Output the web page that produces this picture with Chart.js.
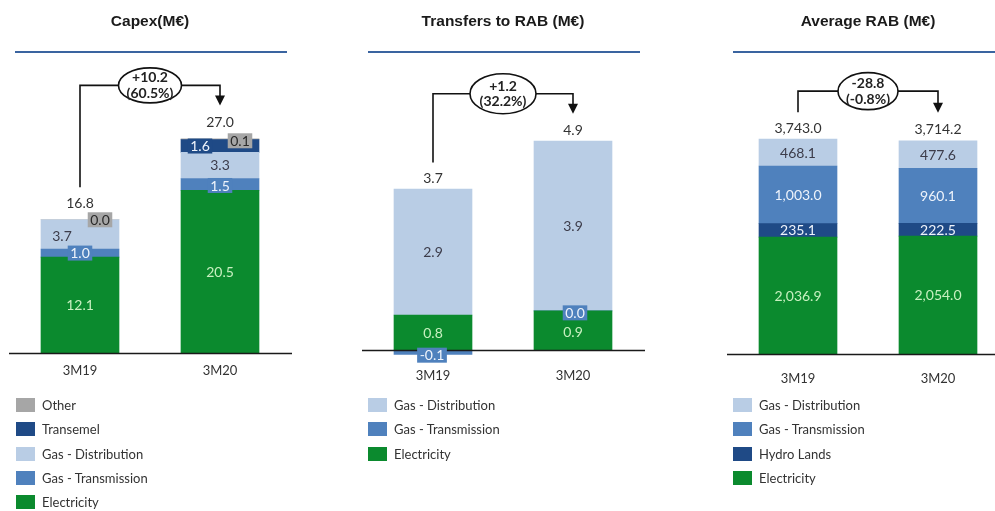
<!DOCTYPE html>
<html><head><meta charset="utf-8">
<script src="https://cdn.jsdelivr.net/npm/chart.js@4.4.1/dist/chart.umd.min.js"></script>
<style>
html,body{margin:0;padding:0;background:#fff;}
body{width:995px;height:511px;overflow:hidden;position:relative;}
canvas{position:absolute;top:0;}
.legend{position:absolute;font-family:Lato,sans-serif;font-size:13px;color:#333;}
.legend .it{position:absolute;left:0;white-space:nowrap;height:14px;}
.legend .sw{position:absolute;left:0;top:0;width:19px;height:14px;}
.legend .tx{position:absolute;left:26px;top:-1px;line-height:16px;}
</style></head><body>
<canvas id="c1" width="310" height="420" style="left:0px"></canvas>
<canvas id="c2" width="320" height="420" style="left:340px"></canvas>
<canvas id="c3" width="330" height="420" style="left:690px"></canvas>
<div class="legend" id="l1" style="left:16px;top:0"></div>
<div class="legend" id="l2" style="left:368px;top:0"></div>
<div class="legend" id="l3" style="left:733px;top:0"></div>
<script>
// ---------- DATA ----------
const categories = ['3M19', '3M20'];

// Capex (M€)
const capexElectricity = [12.1, 20.5];
const capexGasTransmission = [1.0, 1.5];
const capexGasDistribution = [3.7, 3.3];
const capexTransemel = [null, 1.6];
const capexOther = [0.0, 0.1];
const capexTotals = [16.8, 27.0];
const capexChange = ['+10.2', '(60.5%)'];

// Transfers to RAB (M€)
const transfersElectricity = [0.8, 0.9];
const transfersGasTransmission = [-0.1, 0.0];
const transfersGasDistribution = [2.9, 3.9];
const transfersTotals = [3.7, 4.9];
const transfersChange = ['+1.2', '(32.2%)'];

// Average RAB (M€)
const rabElectricity = [2036.9, 2054.0];
const rabHydroLands = [235.1, 222.5];
const rabGasTransmission = [1003.0, 960.1];
const rabGasDistribution = [468.1, 477.6];
const rabTotals = [3743.0, 3714.2];
const rabChange = ['-28.8', '(-0.8%)'];

// ---------- STYLE ----------
const COLORS = {
  'Electricity': '#0b8a2e',
  'Gas - Transmission': '#4f81bd',
  'Gas - Distribution': '#b9cde5',
  'Transemel': '#1f4a86',
  'Hydro Lands': '#1f4a86',
  'Other': '#a6a6a6'
};
const TXT = {
  'Electricity': {color: '#c8f0c0'},
  'Gas - Transmission': {color: '#eef3fb', bg: '#4f81bd'},
  'Gas - Distribution': {color: '#3c3c4a'},
  'Transemel': {color: '#eef3fb', bg: '#1f4a86'},
  'Hydro Lands': {color: '#eef3fb', bg: '#1f4a86'},
  'Other': {color: '#2a2a2a', bg: '#a6a6a6'}
};

const fmt1 = v => v.toFixed(1);
const fmtK = v => v.toLocaleString('en-US', {minimumFractionDigits: 1, maximumFractionDigits: 1});

const annotPlugin = {
  id: 'annot',
  afterDatasetsDraw(chart, args, o) {
    const ctx = chart.ctx, a = chart.chartArea, ys = chart.scales.y;
    ctx.save();
    // rule under the title
    ctx.strokeStyle = '#3a64a0'; ctx.lineWidth = 2;
    ctx.beginPath(); ctx.moveTo(a.left + 5, 52); ctx.lineTo(a.right - 3, 52); ctx.stroke();
    // zero line
    const y0 = Math.round(ys.getPixelForValue(0)) + 0.5;
    ctx.strokeStyle = '#1a1a1a'; ctx.lineWidth = 1.5;
    ctx.beginPath(); ctx.moveTo(a.left - 1, y0); ctx.lineTo(a.right + 2, y0); ctx.stroke();

    // segment labels
    ctx.font = '14px Lato'; ctx.textAlign = 'center'; ctx.textBaseline = 'middle';
    chart.data.datasets.forEach((ds, i) => {
      const meta = chart.getDatasetMeta(i);
      const st = TXT[ds.label];
      const off = (o.offsets && o.offsets[ds.label]) || {};
      const useBg = o.boxes && o.boxes.includes(ds.label);
      meta.data.forEach((el, j) => {
        const v = ds.data[j];
        if (v === null || v === undefined) return;
        const txt = o.fmt(v);
        const x = el.x + (off.dx ? off.dx[j] : 0);
        const y = (el.y + el.base) / 2 + (off.dy ? off.dy[j] : 0);
        if (useBg && st.bg) {
          const w = ctx.measureText(txt).width + 5;
          ctx.fillStyle = st.bg; ctx.fillRect(x - w / 2, y - 7.5, w, 15);
        }
        ctx.fillStyle = st.color; ctx.fillText(txt, x, y + 0.5);
      });
    });

    // totals
    const n = chart.data.labels.length;
    const tops = [], xs = [];
    for (let j = 0; j < n; j++) {
      let t = Infinity, x = 0;
      chart.data.datasets.forEach((ds, i) => {
        const el = chart.getDatasetMeta(i).data[j];
        if (!el || ds.data[j] === null) return;
        t = Math.min(t, el.y, el.base); x = el.x;
      });
      tops.push(t); xs.push(x);
    }
    ctx.fillStyle = '#333'; ctx.font = '14px Lato';
    const ly = tops.map(t => t - o.totalGap);
    o.totals.forEach((v, j) => ctx.fillText(o.fmt(v), xs[j], ly[j]));

    // bracket with arrow
    const by = Math.min(...ly) - 37;
    const tip = ly[1] - 17;
    ctx.strokeStyle = '#111'; ctx.lineWidth = 1.6;
    ctx.beginPath();
    ctx.moveTo(xs[0], ly[0] - 16); ctx.lineTo(xs[0], by); ctx.lineTo(xs[1], by); ctx.lineTo(xs[1], tip - 9);
    ctx.stroke();
    ctx.fillStyle = '#111';
    ctx.beginPath(); ctx.moveTo(xs[1] - 5, tip - 10); ctx.lineTo(xs[1] + 5, tip - 10); ctx.lineTo(xs[1], tip); ctx.closePath(); ctx.fill();
    // ellipse
    const cx = (xs[0] + xs[1]) / 2;
    ctx.beginPath(); ctx.ellipse(cx, by, o.rx, o.ry, 0, 0, Math.PI * 2);
    ctx.fillStyle = '#fff'; ctx.fill(); ctx.stroke();
    ctx.fillStyle = '#222'; ctx.font = 'bold 14px Lato';
    ctx.fillText(o.change[0], cx, by - 7.5);
    ctx.fillText(o.change[1], cx, by + 8);
    ctx.restore();
  }
};

function build(id, legendId, cfg) {
  const datasets = cfg.series.map(s => ({
    label: s.name, data: s.data, backgroundColor: COLORS[s.name],
    borderWidth: 0, barThickness: 78, stack: 's'
  }));
  new Chart(document.getElementById(id), {
    type: 'bar',
    data: {labels: categories, datasets},
    plugins: [annotPlugin],
    options: {
      responsive: false, animation: false,
      layout: {padding: {left: cfg.pl, right: cfg.pr, top: 0, bottom: cfg.pb}},
      plugins: {
        legend: {display: false}, tooltip: {enabled: false},
        title: {display: true, text: cfg.title, color: '#1a1a1a',
          font: {family: 'Liberation Sans', size: 15.5, weight: 'bold'},
          padding: {top: 12, bottom: cfg.titleGap}},
        annot: cfg.annot
      },
      scales: {
        x: {stacked: true, grid: {display: false}, border: {display: false},
          ticks: {color: '#333', font: {family: 'Lato', size: 13}, padding: cfg.tickPad},
          afterFit: s => { s.height = 40; }},
        y: {stacked: true, display: false, min: cfg.min, max: cfg.max}
      }
    }
  });
  // legend (reverse stack order)
  const lg = document.getElementById(legendId);
  cfg.series.slice().reverse().forEach((s, k) => {
    const it = document.createElement('div');
    it.className = 'it'; it.style.top = (398 + k * 24.3) + 'px';
    it.innerHTML = '<span class="sw" style="background:' + COLORS[s.name] + '"></span><span class="tx">' + s.name + '</span>';
    lg.appendChild(it);
  });
}

build('c1', 'l1', {
  title: 'Capex(M€)', pl: 10, pr: 20, pb: 27, titleGap: 84.5, tickPad: 2.5, min: 0, max: 30,
  series: [
    {name: 'Electricity', data: capexElectricity},
    {name: 'Gas - Transmission', data: capexGasTransmission},
    {name: 'Gas - Distribution', data: capexGasDistribution},
    {name: 'Transemel', data: capexTransemel},
    {name: 'Other', data: capexOther}
  ],
  annot: {fmt: fmt1, totals: capexTotals, change: capexChange, totalGap: 16.5, rx: 31.5, ry: 17.5,
    boxes: ['Gas - Transmission', 'Transemel', 'Other'],
    offsets: {
      'Gas - Distribution': {dx: [-18, 0], dy: [2, 0]},
      'Transemel': {dx: [0, -20], dy: [0, 0]},
      'Other': {dx: [20, 20], dy: [0, 1.5]},
      'Gas - Transmission': {dx: [0, 0], dy: [0, 1]}
    }}
});

build('c2', 'l2', {
  title: 'Transfers to RAB (M€)', pl: 23, pr: 17, pb: 21.3, titleGap: 80.15, tickPad: 1.8, min: -0.2, max: 5.5,
  series: [
    {name: 'Electricity', data: transfersElectricity},
    {name: 'Gas - Transmission', data: transfersGasTransmission},
    {name: 'Gas - Distribution', data: transfersGasDistribution}
  ],
  annot: {fmt: fmt1, totals: transfersTotals, change: transfersChange, totalGap: 10.5, rx: 33, ry: 20,
    boxes: ['Gas - Transmission'],
    offsets: {
      'Gas - Transmission': {dx: [-1, 2], dy: [3, 2]},
      'Electricity': {dx: [0, 0], dy: [0, 2]}
    }}
});

build('c3', 'l3', {
  title: 'Average RAB (M€)', pl: 38, pr: 12, pb: 26, titleGap: 93.8, tickPad: 9.5, min: 0, max: 4000,
  series: [
    {name: 'Electricity', data: rabElectricity},
    {name: 'Hydro Lands', data: rabHydroLands},
    {name: 'Gas - Transmission', data: rabGasTransmission},
    {name: 'Gas - Distribution', data: rabGasDistribution}
  ],
  annot: {fmt: fmtK, totals: rabTotals, change: rabChange, totalGap: 11, rx: 30, ry: 18.5,
    boxes: [], offsets: {}}
});
</script>
</body></html>
